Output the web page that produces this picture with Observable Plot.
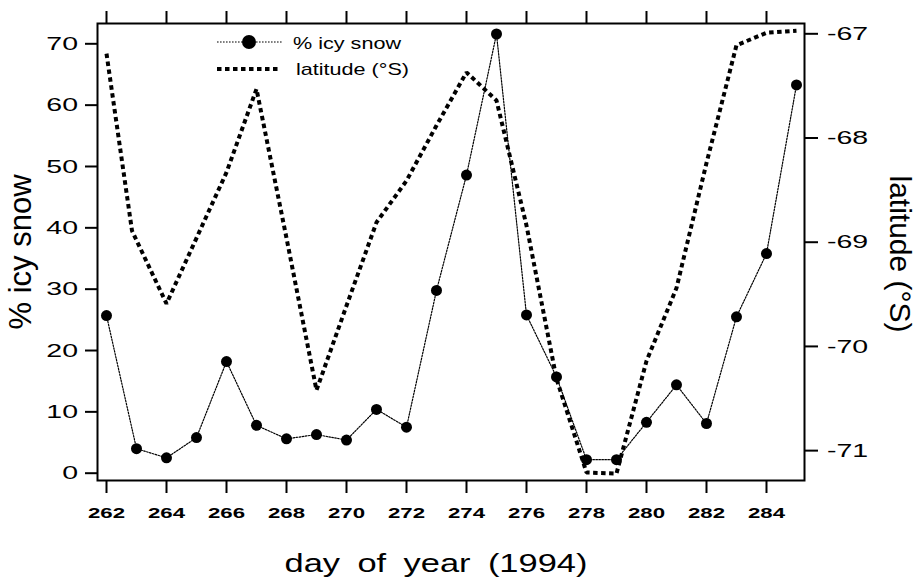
<!DOCTYPE html>
<html><head><meta charset="utf-8">
<script src="https://cdn.jsdelivr.net/npm/d3@7"></script>
<script src="https://cdn.jsdelivr.net/npm/@observablehq/plot@0.6"></script>
<style>
body{margin:0;background:#fff;}
#chart{width:917px;height:580px;}
#chart svg{font-family:"Liberation Sans",Arial,Helvetica,sans-serif;background:#fff;}
</style></head><body><div id="chart"></div>
<script>
// ---- data ----
const days = [262,263,264,265,266,267,268,269,270,271,272,273,274,275,276,277,278,279,280,281,282,283,284,285];
const icySnow = [25.7,4.0,2.5,5.8,18.2,7.8,5.6,6.3,5.4,10.4,7.5,29.8,48.6,71.6,25.8,15.7,2.2,2.2,8.3,14.4,8.1,25.5,35.8,63.3];
const latDays = [262,262.85,264,265,266,267,268,269,270,271,272,273,274,275,276,277,278,279,280,281,282,283,284,285];
const latitude = [-67.19,-68.89,-69.59,-68.96,-68.33,-67.53,-68.96,-70.42,-69.61,-68.81,-68.41,-67.88,-67.37,-67.64,-68.84,-70.31,-71.21,-71.22,-70.14,-69.44,-68.24,-67.11,-66.99,-66.97];
const xTicks = [262,264,266,268,270,272,274,276,278,280,282,284];
const yTicks = [0,10,20,30,40,50,60,70];
const latTicks = [-67,-68,-69,-70,-71];
const seriesNames = ["% icy snow","latitude (\u00B0S)"];
const xTitle = "day of year (1994)";

// alignment of the right (latitude) axis against the left (%) axis
const latToPct = d3.scaleLinear().domain([-71,-67]).range([3.68,71.63]);

const icyData = days.map((d,i)=>({day:d, v:icySnow[i]}));
const latData = latDays.map((d,i)=>({day:d, v:latToPct(latitude[i])}));

const chart = Plot.plot({
  width: 917, height: 580,
  marginLeft: 97, marginRight: 113, marginTop: 23, marginBottom: 100,
  x: {domain: [261.7, 285.267]},
  y: {domain: [-1.19, 73.31]},
  style: {fontFamily: '"Liberation Sans",Arial,sans-serif', color: "black", background: "white"},
  marks: [
    Plot.frame({stroke: "black", strokeWidth: 2}),
    Plot.axisX({ticks: xTicks, tickSize: 13, strokeWidth: 2, tickFormat: () => "", label: null}),
    Plot.axisX({anchor: "top", ticks: xTicks, tickSize: 13, strokeWidth: 2, tickFormat: () => "", label: null}),
    Plot.axisY({ticks: yTicks, tickSize: 12, strokeWidth: 2, tickFormat: () => "", label: null}),
    Plot.axisY({anchor: "right", ticks: latTicks.map(latToPct), tickSize: 13, strokeWidth: 2, tickFormat: () => "", label: null}),
    // tick labels
    Plot.text(xTicks, {x: d => d, text: d => String(d), frameAnchor: "bottom", dy: 26.5, lineAnchor: "top", fontSize: 15, fontWeight: "bold", textAnchor: "middle"}),
    Plot.text(yTicks, {y: d => d, text: d => String(d), frameAnchor: "left", dx: -19.5, lineAnchor: "middle", fontSize: 19, textAnchor: "end"}),
    Plot.text(latTicks, {y: d => latToPct(d), text: d => String(d), frameAnchor: "right", dx: 22.5, lineAnchor: "middle", fontSize: 19.01, textAnchor: "start"}),
    // series
    Plot.line(latData, {x: "day", y: "v", stroke: "black", strokeWidth: 4, strokeDasharray: "4.5,3.5", strokeLinecap: "butt", strokeLinejoin: "miter"}),
    Plot.line(icyData, {x: "day", y: "v", stroke: "black", strokeWidth: 1.2, strokeDasharray: "1.6,1.4"}),
    Plot.dot(icyData, {x: "day", y: "v", r: 5.5, fill: "black", stroke: null}),
    // titles
    Plot.text([xTitle], {frameAnchor: "bottom", dx: -15, dy: 91, lineAnchor: "bottom", fontSize: 26.5, textAnchor: "middle"}),
    Plot.text([seriesNames[0]], {frameAnchor: "left", dx: -67, dy: 0, rotate: -90, lineAnchor: "bottom", fontSize: 31, textAnchor: "middle"}),
    Plot.text([seriesNames[1]], {frameAnchor: "right", dx: 85, dy: 2, rotate: 90, lineAnchor: "bottom", fontSize: 30, textAnchor: "middle"})
  ]
});
document.getElementById("chart").appendChild(chart);

// legend
const svg = d3.select(chart);
const lg = svg.append("g").attr("class", "legend").attr("text-anchor", "start").attr("font-size", 16);
lg.append("line").attr("x1",217).attr("x2",283).attr("y1",42).attr("y2",42)
  .attr("stroke","black").attr("stroke-width",1.2).attr("stroke-dasharray","1.6,1.4");
lg.append("circle").attr("cx",249).attr("cy",42).attr("r",7).attr("fill","black");
lg.append("text").attr("x",293).attr("y",49).text(seriesNames[0]);
lg.append("line").attr("x1",217).attr("x2",281).attr("y1",69).attr("y2",69)
  .attr("stroke","black").attr("stroke-width",4).attr("stroke-dasharray","4.5,3.5");
lg.append("text").attr("x",296).attr("y",75).text(seriesNames[1]);

// horizontal stretch of non-rotated text, as in the reference
const stretchFor = fs => fs === 19 || fs === 19.01 ? 1.5 : fs === 15 ? 1.48 : fs === 26.5 ? 1.3 : 1.35;
chart.querySelectorAll("text").forEach(t => {
  const tr = t.getAttribute("transform") || "";
  if (tr.includes("rotate")) return;
  let el = t, fs = NaN;
  while (el && el !== chart && isNaN(fs)) { fs = parseFloat(el.getAttribute("font-size")); el = el.parentNode; }
  const s = stretchFor(fs);
  const xa = t.getAttribute("x");
  let x = 0;
  if (xa !== null && !/em/.test(xa)) { x = +xa || 0; t.removeAttribute("x"); }
  t.setAttribute("transform", `${tr} translate(${x},0) scale(${s},1)`);
  if (t.textContent === xTitle) t.setAttribute("word-spacing", "6");
});
</script></body></html>
